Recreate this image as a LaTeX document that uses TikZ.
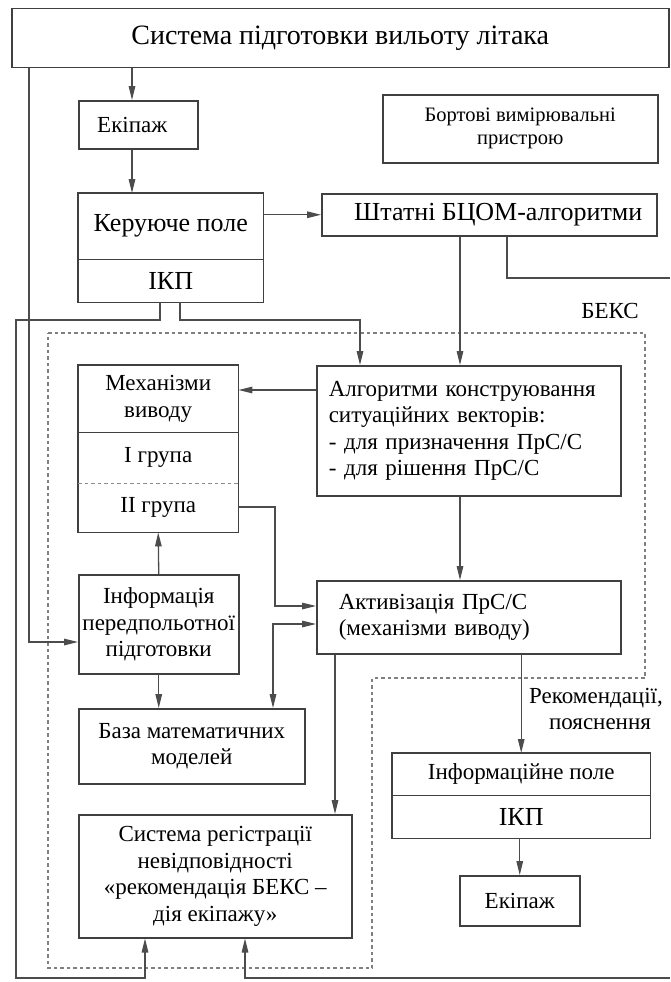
\documentclass[tikz,border=0pt]{standalone}
\usepackage{fontspec}
\setmainfont{Liberation Serif}
\usetikzlibrary{arrows.meta,calc}

\newcommand\txtmain{\fontsize{23}{26.5}\selectfont}
\newcommand\txtbig{\fontsize{26}{30}\selectfont}
\newcommand\txttitle{\fontsize{28}{32}\selectfont}
\newcommand\txtsmall{\fontsize{20.5}{23}\selectfont}

\begin{document}
\begin{tikzpicture}[x=1pt,y=-1pt,
  box/.style={draw=black!75, line width=1.5pt, inner sep=0pt, anchor=north west,
              font=\txtmain, align=center},
  part/.style={inner sep=0pt, anchor=north west, font=\txtmain, align=center},
  frame/.style={line width=1.5pt, draw=black!75},
  tip/.tip={Triangle[length=14pt,width=6.5pt]},
  arr/.style={-tip, line width=1.3pt, draw=black!70},
  dblarr/.style={tip-tip, line width=1.3pt, draw=black!70},
  ln/.style={line width=1.3pt, draw=black!70},
  bekszone/.style={draw=black!50, line width=1.3pt, dash pattern=on 3.5pt off 3pt}]

\useasboundingbox (0,0) rectangle (670,982);

% ---- upper part: preparation system and crew ----
\node[box, minimum width=657, minimum height=59, font=\txttitle] (sys) at (11,8)
  {\raisebox{-5pt}{Система підготовки вильоту літака}};
\node[box, minimum width=119, minimum height=48] (ek1) at (78,100) {Екіпаж\hspace{12pt}};
\node[box, minimum width=275, minimum height=68, font=\txtsmall] (bort) at (382,94)
  {Бортові вимірювальні\\пристрою};

% control field with the ІКП strip below
\node[part, minimum width=185, minimum height=66, font=\txtbig] (kp) at (78,193) {Керуюче поле};
\node[part, minimum width=185, minimum height=43, font=\txtbig] (ikp1) at (78,259) {ІКП};
\draw[frame] (kp.north west) rectangle (ikp1.south east);
\draw[frame] (kp.south west) -- (kp.south east);

\node[box, minimum width=335, minimum height=42, font=\txtbig] (sht) at (321,193)
  {\hspace{18pt}Штатні БЦОМ-алгоритми};

% ---- expert system zone ----
\draw[bekszone] (48,333) -- (645,333) -- (645,678) -- (372,678) -- (372,968) -- (48,968) -- cycle;
\node[font=\txtmain] (bekslabel) at (610,311) {БЕКС};

% inference mechanisms (three stacked parts)
\node[part, minimum width=160, minimum height=67] (mech) at (78,365) {Механізми\\виводу};
\node[part, minimum width=160, minimum height=51] (gr1) at (78,432) {І група};
\node[part, minimum width=160, minimum height=49] (gr2) at (78,483) {ІІ група};
\draw[frame] (mech.north west) rectangle (gr2.south east);
\draw[frame] (mech.south west) -- (mech.south east);
\draw[line width=1.3pt, black!45, dash pattern=on 3.5pt off 3pt] (gr1.south west) -- (gr1.south east);

\node[box, minimum width=304, minimum height=130, text width=280pt, inner xsep=12pt, align=left] (alg) at (316,365)
  {Алгоритми конструювання\\ситуаційних векторів:\\- для призначення ПрС/С\\- для рішення ПрС/С};

\node[box, minimum width=304, minimum height=73, text width=260pt, inner xsep=22pt, align=left] (act) at (316,580)
  {Активізація ПрС/С\\(механізми виводу)};

\node[box, minimum width=160, minimum height=99] (info) at (78,574)
  {Інформація\\передпольотної\\підготовки};

\node[box, minimum width=226, minimum height=75] (baza) at (78,708)
  {База математичних\\моделей};

\node[box, minimum width=273, minimum height=123] (reg) at (78,814)
  {Система регістрації\\невідповідності\\«рекомендація БЕКС –\\дія екіпажу»};

% ---- information field and crew at the output ----
\node[part, minimum width=258, minimum height=42] (ipole) at (392,753) {Інформаційне поле};
\node[part, minimum width=258, minimum height=43, font=\txtbig] (ikp2) at (392,795) {ІКП};
\draw[frame] (ipole.north west) rectangle (ikp2.south east);
\draw[frame] (ipole.south west) -- (ipole.south east);

\node[box, minimum width=120, minimum height=50] (ek2) at (459,875) {Екіпаж};

\node[font=\txtmain, align=center] (recom) at (596,709) {Рекомендації,\\\hspace{8pt}пояснення};

% ---- routing points ----
\coordinate (xa) at (132,0);
\coordinate (xs1) at (460,0);
\coordinate (xs2) at (507,0);
\coordinate (edge1) at (670,278);
\coordinate (xl) at (160,0);
\coordinate (xr) at (180,0);
\coordinate (bend1) at (16,320);
\coordinate (bend2) at (360,320);
\coordinate (bend3) at (16,978);
\coordinate (xb1) at (145,0);
\coordinate (xb2) at (245,0);
\coordinate (edge2) at (670,978);
\coordinate (left) at (29,642);
\coordinate (ymech) at (0,390);
\coordinate (gbend) at (275,507);
\coordinate (ygr) at (0,606);
\coordinate (fork) at (273,624);
\coordinate (xr1) at (335,0);

% ---- connectors ----
\draw[arr] (sys.south -| xa) -- (ek1.north -| xa);
\draw[arr] (ek1.south -| xa) -- (kp.north -| xa);
\draw[arr] (kp.east |- sht.west) -- (sht.west);
\draw[arr] (sht.south -| xs1) -- (alg.north -| xs1);
\draw[ln] (sht.south -| xs2) |- (edge1);

\draw[arr] (ikp1.south -| xl) |- (bend1) -- (bend3) -| (reg.south -| xb1);
\draw[arr] (ikp1.south -| xr) |- (bend2) -- (alg.north -| bend2);
\draw[arr] (edge2) -| (reg.south -| xb2);

\draw[arr] (sys.south -| left) -- (left) -- (info.west |- left);

\draw[arr] (alg.west |- ymech) -- (mech.east |- ymech);
\draw[arr] (alg.south -| xs1) -- (act.north -| xs1);
\draw[arr] (gr2.east |- gbend) -- (gbend) |- (act.west |- ygr);
\draw[dblarr] (act.west |- fork) -- (fork) -- (baza.north -| fork);

\draw[arr] (info.north) -- (gr2.south);
\draw[arr] (info.south) -- (baza.north -| info.south);

\draw[arr] (act.south -| xr1) -- (reg.north -| xr1);
\draw[arr] (act.south -| ipole.north) -- (ipole.north);
\draw[arr] (ikp2.south -| ek2.north) -- (ek2.north);

\end{tikzpicture}
\end{document}
